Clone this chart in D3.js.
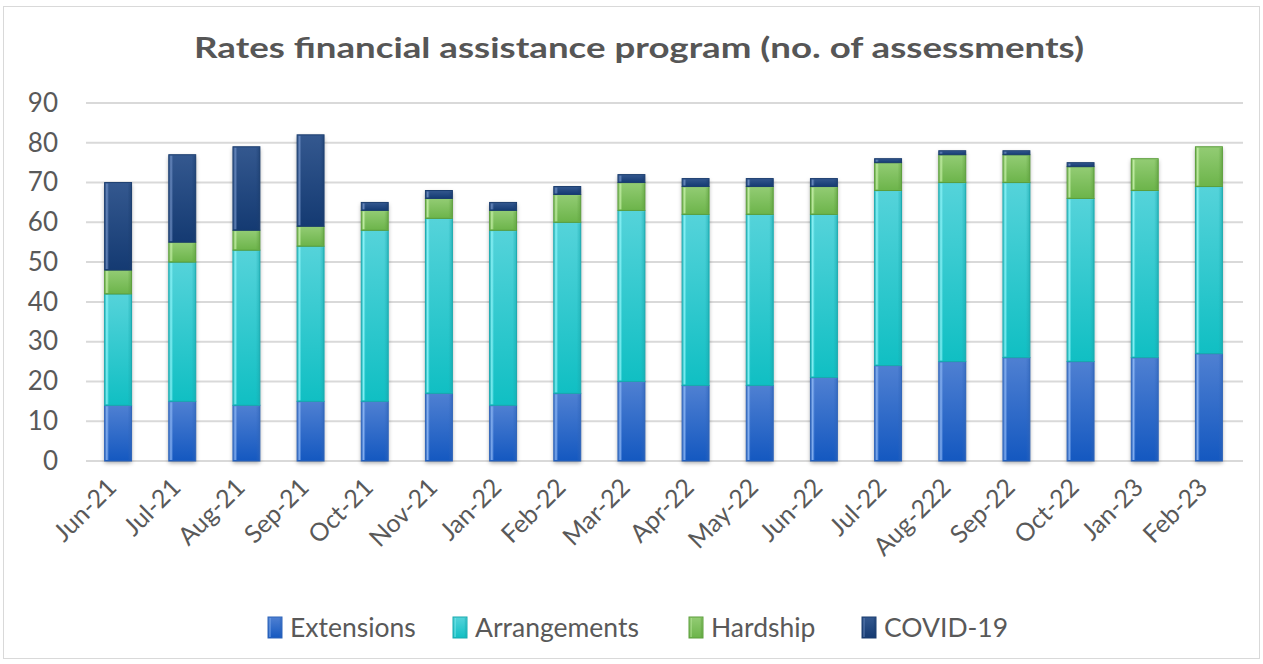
<!DOCTYPE html>
<html><head><meta charset="utf-8">
<script src="https://cdn.jsdelivr.net/npm/d3@7/dist/d3.min.js"></script>
<style>body{margin:0;background:#fff;}svg{display:block;}</style>
</head><body>
<svg id="chart" width="1263" height="664"></svg>
<script>
const categories = ["Jun-21","Jul-21","Aug-21","Sep-21","Oct-21","Nov-21","Jan-22","Feb-22","Mar-22","Apr-22","May-22","Jun-22","Jul-22","Aug-222","Sep-22","Oct-22","Jan-23","Feb-23"];
const extensions   = [14,15,14,15,15,17,14,17,20,19,19,21,24,25,26,25,26,27];
const arrangements = [28,35,39,39,43,44,44,43,43,43,43,41,44,45,44,41,42,42];
const hardship     = [6,5,5,5,5,5,5,7,7,7,7,7,7,7,7,8,8,10];
const covid        = [22,22,21,23,2,2,2,2,2,2,2,2,1,1,1,1,0,0];
const seriesNames = ["Extensions","Arrangements","Hardship","COVID-19"];
const yTicks = [0,10,20,30,40,50,60,70,80,90];
const title = "Rates financial assistance program (no. of assessments)";

const seriesValues = [extensions, arrangements, hardship, covid];
const colors = [
  {top:"#4f80d2", bot:"#1458c0", edge:"#2f64b8", hi:"#8fb8f5"},
  {top:"#55d3da", bot:"#10bfc3", edge:"#1aa9ae", hi:"#8ff6fa"},
  {top:"#93cc74", bot:"#6cb44a", edge:"#5c9e3c", hi:"#c6f0a8"},
  {top:"#34588f", bot:"#143a72", edge:"#1b3d6e", hi:"#6f8fc4"}
];

const svg = d3.select("#chart");
const font = "'Century Gothic','URW Gothic','Lato','Open Sans',sans-serif";
const textColor = "#595959";

// outer border
svg.append("rect").attr("x",3.5).attr("y",6.5).attr("width",1256).attr("height",652)
  .attr("fill","#fff").attr("stroke","#d9d9d9").attr("stroke-width",1);

const defs = svg.append("defs");
colors.forEach((c,i)=>{
  const g = defs.append("linearGradient").attr("id","g"+i).attr("x1",0).attr("y1",0).attr("x2",0).attr("y2",1);
  g.append("stop").attr("offset","0%").attr("stop-color",c.top);
  g.append("stop").attr("offset","100%").attr("stop-color",c.bot);
  const h = defs.append("linearGradient").attr("id","h"+i).attr("x1",0).attr("y1",0).attr("x2",1).attr("y2",0);
  h.append("stop").attr("offset","0%").attr("stop-color",c.edge).attr("stop-opacity",0.6);
  h.append("stop").attr("offset","8%").attr("stop-color",c.hi).attr("stop-opacity",0.9);
  h.append("stop").attr("offset","16%").attr("stop-color",c.hi).attr("stop-opacity",0);
  h.append("stop").attr("offset","85%").attr("stop-color",c.edge).attr("stop-opacity",0);
  h.append("stop").attr("offset","100%").attr("stop-color",c.edge).attr("stop-opacity",0.6);
});
const sh = defs.append("filter").attr("id","shadow").attr("x","-30%").attr("y","-10%").attr("width","160%").attr("height","130%");
sh.append("feDropShadow").attr("dx",0).attr("dy",2).attr("stdDeviation",2).attr("flood-color","#000").attr("flood-opacity",0.35);

const x = d3.scaleBand().domain(categories).range([86,1241]).paddingInner(0.58).paddingOuter(0.29);
const y = d3.scaleLinear().domain([0,90]).range([461,103]);

// grid
svg.append("g").selectAll("line").data(yTicks).join("line")
  .attr("x1",86).attr("x2",1243).attr("y1",d=>y(d)).attr("y2",d=>y(d))
  .attr("stroke","#d9d9d9").attr("stroke-width",2);

// y axis labels
const yAxis = d3.axisLeft(y).tickValues(yTicks).tickSize(0).tickPadding(0);
const ya = svg.append("g").attr("transform","translate(58,0)").call(yAxis);
ya.select(".domain").remove();
ya.selectAll("text").attr("font-family",font).attr("font-size",26).attr("fill",textColor);

// stacked data
const rows = categories.map((c,i)=>{const o={cat:c}; seriesNames.forEach((s,j)=>o[s]=seriesValues[j][i]); return o;});
const stack = d3.stack().keys(seriesNames)(rows);

// bar shadows (whole bar)
svg.append("g").selectAll("rect").data(rows).join("rect")
  .attr("x",d=>x(d.cat)).attr("width",x.bandwidth())
  .attr("y",d=>y(d3.sum(seriesNames,s=>d[s]))).attr("height",d=>y(0)-y(d3.sum(seriesNames,s=>d[s])))
  .attr("fill","#fff").attr("filter","url(#shadow)");

stack.forEach((layer,i)=>{
  const g = svg.append("g");
  const segs = layer.filter(d=>d[1]-d[0]>0);
  g.selectAll("rect.b").data(segs).join("rect").attr("class","b")
    .attr("x",d=>x(d.data.cat)).attr("width",x.bandwidth())
    .attr("y",d=>y(d[1])).attr("height",d=>y(d[0])-y(d[1]))
    .attr("fill","url(#g"+i+")").attr("stroke",colors[i].edge).attr("stroke-width",1);
  g.selectAll("rect.h").data(segs).join("rect").attr("class","h")
    .attr("x",d=>x(d.data.cat)).attr("width",x.bandwidth())
    .attr("y",d=>y(d[1])+1).attr("height",d=>Math.max(0,y(d[0])-y(d[1])-2))
    .attr("fill","url(#h"+i+")");
});

// x axis labels
const xa = svg.append("g").attr("transform","translate(0,463)").call(d3.axisBottom(x).tickSize(0).tickPadding(0));
xa.select(".domain").remove();
xa.selectAll("text").attr("font-family",font).attr("font-size",25).attr("fill",textColor)
  .attr("text-anchor","end").attr("dy",0)
  .attr("transform","translate(0,26) rotate(-45)");

// title
svg.append("text").attr("x",639).attr("y",58).attr("text-anchor","middle")
  .attr("font-family",font).attr("font-weight","bold").attr("font-size",28).attr("fill","#565656")
  .attr("textLength",890).attr("lengthAdjust","spacingAndGlyphs").text(title);

// legend
const legendX = [268,453,689,862];
const lg = svg.append("g");
seriesNames.forEach((s,i)=>{
  lg.append("rect").attr("x",legendX[i]).attr("y",617).attr("width",14).attr("height",21)
    .attr("fill","url(#g"+i+")").attr("stroke",colors[i].edge);
  lg.append("rect").attr("x",legendX[i]+1).attr("y",618).attr("width",12).attr("height",19).attr("fill","url(#h"+i+")");
  lg.append("text").attr("x",legendX[i]+22).attr("y",637).attr("font-family",font).attr("font-size",26.5)
    .attr("fill",textColor).text(s);
});
</script>
</body></html>
